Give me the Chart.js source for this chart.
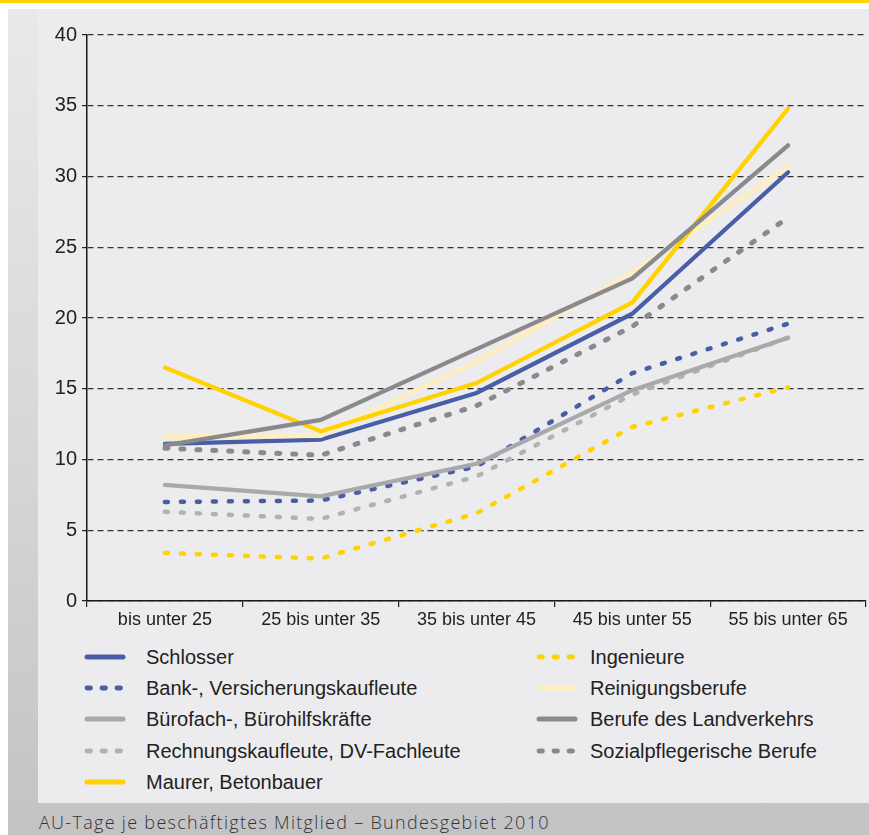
<!DOCTYPE html>
<html><head><meta charset="utf-8">
<script src="https://cdn.jsdelivr.net/npm/chart.js@4.4.0/dist/chart.umd.min.js"></script>
<style>
html,body{margin:0;padding:0;width:869px;height:835px;overflow:hidden;background:#fff;}
#topbar{position:absolute;left:0;top:0;width:869px;height:3px;background:#ffd400;}
#frame{position:absolute;left:8px;top:9px;width:861px;height:826px;background:linear-gradient(to bottom,#e9e9eb 0%,#d8d8da 50%,#c3c3c5 100%);}
#panel{position:absolute;left:38px;top:9px;width:831px;height:794px;background:#ececee;}
#wrap{position:absolute;left:38px;top:9px;width:831px;height:630px;}
.leg{position:absolute;height:30px;font-family:'Liberation Sans',Arial,sans-serif;font-size:20px;color:#222;white-space:nowrap;line-height:30px;}
.leg svg{position:absolute;top:10px;}
.leg span{position:absolute;top:0;}
#caption{position:absolute;left:39px;top:811px;font-family:'Open Sans','Liberation Sans',sans-serif;font-weight:300;font-size:18px;letter-spacing:1.3px;color:#333;white-space:nowrap;line-height:22px;}
</style></head>
<body>
<div id="topbar"></div>
<div id="frame"></div>
<div id="panel"></div>
<div id="wrap"><canvas id="c" width="831" height="630"></canvas></div>
<div id="legend"></div>
<div id="caption">AU-Tage je beschäftigtes Mitglied – Bundesgebiet 2010</div>
<script>
const categories = ['bis unter 25','25 bis unter 35','35 bis unter 45','45 bis unter 55','55 bis unter 65'];
const yMin = 0, yMax = 40, yStep = 5;

const seriesNames = ['Schlosser','Bank-, Versicherungskaufleute','Bürofach-, Bürohilfskräfte','Rechnungskaufleute, DV-Fachleute','Maurer, Betonbauer','Ingenieure','Reinigungsberufe','Berufe des Landverkehrs','Sozialpflegerische Berufe'];

const schlosser   = [11.1, 11.4, 14.7, 20.3, 30.3];
const bank        = [7.0, 7.1, 9.5, 16.1, 19.6];
const buero       = [8.2, 7.4, 9.7, 14.9, 18.6];
const rechnung    = [6.3, 5.8, 8.8, 14.6, 18.6];
const maurer      = [16.5, 12.0, 15.4, 21.1, 34.8];
const ingenieure  = [3.4, 3.0, 6.2, 12.3, 15.1];
const reinigung   = [11.6, 11.7, 16.9, 23.2, 30.7];
const landverkehr = [11.0, 12.8, 17.8, 22.8, 32.2];
const sozial      = [10.8, 10.3, 13.8, 19.4, 27.1];

const BLUE='#4a5ea8', YELLOW='#ffd200', CREAM='#fdefc2', DGRAY='#8a8a8c', LGRAY='#a9a9ab', LGRAY2='#b2b2b4';
const DOT=[3,13];

const styles = [
  {data:schlosser,   color:BLUE,   dash:[],  w:4.3, order:3},
  {data:bank,        color:BLUE,   dash:DOT, w:4.5, order:6},
  {data:buero,       color:LGRAY,  dash:[],  w:4.3, order:5},
  {data:rechnung,    color:LGRAY2, dash:DOT, w:4.5, order:7},
  {data:maurer,      color:YELLOW, dash:[],  w:4.3, order:1},
  {data:ingenieure,  color:YELLOW, dash:DOT, w:4.5, order:8},
  {data:reinigung,   color:CREAM,  dash:[],  w:5,   order:2},
  {data:landverkehr, color:DGRAY,  dash:[],  w:4.3, order:0},
  {data:sozial,      color:DGRAY,  dash:DOT, w:5,   order:4}
];

const datasets = styles.map((s,i)=>({
  label: seriesNames[i],
  data: s.data,
  borderColor: s.color,
  backgroundColor: s.color,
  borderWidth: s.w,
  borderDash: s.dash,
  borderCapStyle: 'round',
  borderJoinStyle: 'miter',
  pointRadius: 0,
  pointHoverRadius: 0,
  tension: 0,
  fill: false,
  order: s.order
}));

const FONT = "'Liberation Sans', Arial, sans-serif";

new Chart(document.getElementById('c'), {
  type: 'line',
  data: {labels: categories, datasets},
  options: {
    responsive: false,
    animation: false,
    devicePixelRatio: 1,
    layout: {padding: {top: 26, right: 3, left: 0, bottom: 0}},
    plugins: {legend: {display: false}, tooltip: {enabled: false}},
    scales: {
      x: {
        offset: true,
        grid: {display: true, drawOnChartArea: false, offset: true, tickLength: 6, color: '#222', lineWidth: 1.2},
        border: {display: true, color: '#1a1a1a', width: 1.5},
        ticks: {color: '#222', font: {family: FONT, size: 18}, padding: 2, maxRotation: 0},
        afterFit: s => { s.height = 38; }
      },
      y: {
        min: yMin, max: yMax,
        grid: {color: '#333', lineWidth: 1.2, tickLength: 5, tickColor: '#222', tickWidth: 1.2, tickBorderDash: []},
        border: {display: true, color: '#1a1a1a', width: 1.5, dash: [6,4]},
        ticks: {stepSize: yStep, color: '#222', font: {family: FONT, size: 20}, padding: 5},
        afterFit: s => { s.width = 49; }
      }
    }
  }
});

// HTML legend (two columns)
const legendPos = [
  [84,146,0],[84,146,1],[84,146,2],[84,146,3],[84,146,4],
  [536,590,0],[536,590,1],[536,590,2],[536,590,3]
];
const legend = document.getElementById('legend');
styles.forEach((s,i)=>{
  const [sx, tx, row] = legendPos[i];
  const cy = 657 + row*31.2;
  const div = document.createElement('div');
  div.className = 'leg';
  div.style.left = '0px';
  div.style.top = (cy-15)+'px';
  const dashed = s.dash.length>0;
  const line = dashed
    ? `<line x1="3" y1="5" x2="36.5" y2="5" stroke="${s.color}" stroke-width="4.8" stroke-linecap="round" stroke-dasharray="3.5 11.5"/>`
    : `<line x1="3" y1="5" x2="39" y2="5" stroke="${s.color}" stroke-width="5" stroke-linecap="round"/>`;
  div.innerHTML = `<svg width="44" height="10" style="left:${sx}px">${line}</svg><span style="left:${tx}px">${seriesNames[i]}</span>`;
  legend.appendChild(div);
});
</script>
</body></html>
